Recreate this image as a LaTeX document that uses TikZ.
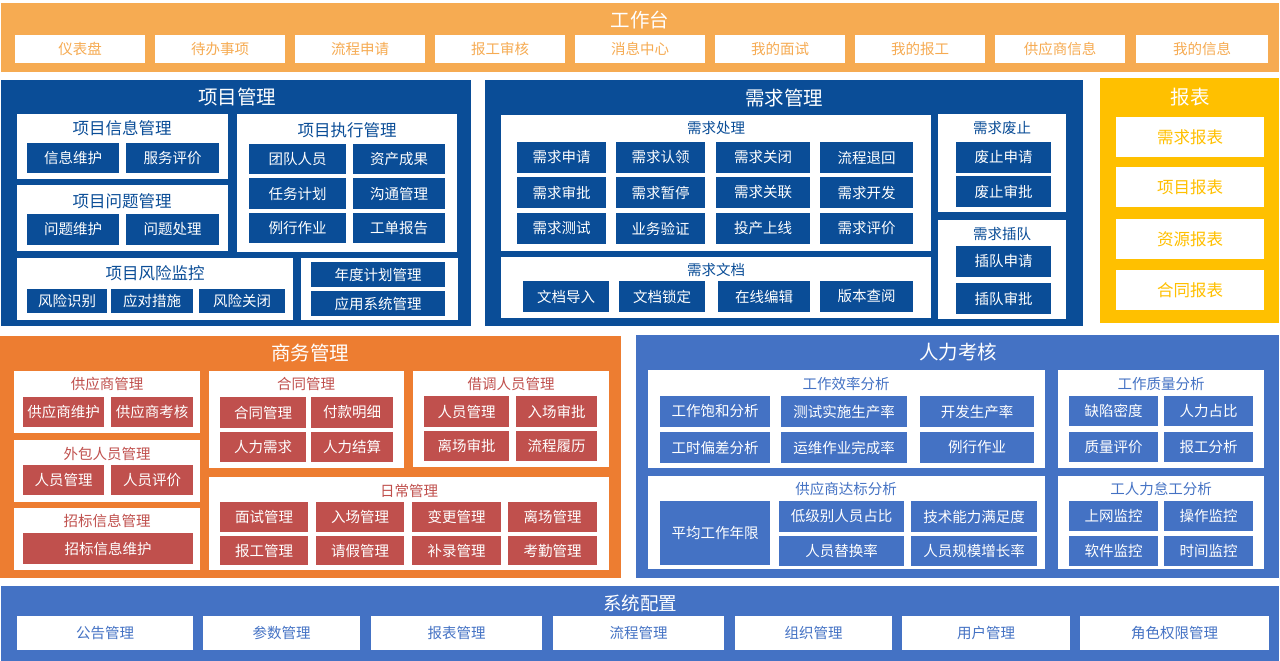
\documentclass[tikz,border=0pt]{standalone}
\usepackage{fontspec}
\newfontfamily\cjk{Noto Sans CJK SC}
\definecolor{topor}{HTML}{F6AB52}
\definecolor{dblue}{HTML}{0A4D97}
\definecolor{yel}{HTML}{FFC000}
\definecolor{bor}{HTML}{ED7D31}
\definecolor{red}{HTML}{C0504D}
\definecolor{lblue}{HTML}{4472C4}
\tikzset{
  base/.style={anchor=north west, inner sep=0pt, outer sep=0pt, align=center,
    font=\cjk\fontsize{14.5}{17}\selectfont},
  panel/.style={base, fill=#1},
  wbtn/.style={base, fill=white, text=#1},
  cbtn/.style={base, fill=#1, text=white},
  bigttl/.style={inner sep=0pt, text=white, font=\cjk\fontsize{19.5}{22}\selectfont},
  subttl/.style={inner sep=0pt, text=#1, font=\cjk\fontsize{14.5}{17}\selectfont},
  midttl/.style={inner sep=0pt, text=#1, font=\cjk\fontsize{16.5}{19}\selectfont},
}
\newcommand\cell[7]{\node[#1, minimum width=#5pt, minimum height=#6pt] (#2) at (#3,#4) {#7};}
\begin{document}
\begin{tikzpicture}[x=1pt,y=-1pt]
\useasboundingbox (0,0) rectangle (1280,661);
\fill[white] (0,0) rectangle (1280,661);

% ===== 工作台 =====
\cell{panel=topor}{wb}{1}{3}{1278}{69}{}
\node[bigttl] (wbt) at (640,20) {工作台};
\cell{wbtn=topor}{wb1}{15}{35}{130}{28}{仪表盘}
\cell{wbtn=topor}{wb2}{155}{35}{130}{28}{待办事项}
\cell{wbtn=topor}{wb3}{295}{35}{130}{28}{流程申请}
\cell{wbtn=topor}{wb4}{435}{35}{130}{28}{报工审核}
\cell{wbtn=topor}{wb5}{575}{35}{130}{28}{消息中心}
\cell{wbtn=topor}{wb6}{715}{35}{130}{28}{我的面试}
\cell{wbtn=topor}{wb7}{855}{35}{130}{28}{我的报工}
\cell{wbtn=topor}{wb8}{995}{35}{130}{28}{供应商信息}
\cell{wbtn=topor}{wb9}{1136}{35}{132}{28}{我的信息}

% ===== 项目管理 =====
\cell{panel=dblue}{pm}{1}{80}{470}{246}{}
\node[bigttl] (pmt) at (237,97) {项目管理};
\cell{panel=white}{pa}{17}{114}{211}{65}{}
\node[midttl=dblue] (pat) at (122,128) {项目信息管理};
\cell{cbtn=dblue}{pa1}{27}{143}{92}{30}{信息维护}
\cell{cbtn=dblue}{pa2}{126}{143}{93}{30}{服务评价}
\cell{panel=white}{pb}{17}{185}{211}{66}{}
\node[midttl=dblue] (pbt) at (122,201) {项目问题管理};
\cell{cbtn=dblue}{pb1}{27}{214}{92}{31}{问题维护}
\cell{cbtn=dblue}{pb2}{126}{214}{93}{31}{问题处理}
\cell{panel=white}{pc}{237}{114}{220}{138}{}
\node[midttl=dblue] (pct) at (347,130) {项目执行管理};
\cell{cbtn=dblue}{pc1}{249}{144}{97}{30}{团队人员}
\cell{cbtn=dblue}{pc2}{353}{144}{92}{30}{资产成果}
\cell{cbtn=dblue}{pc3}{249}{178}{97}{31}{任务计划}
\cell{cbtn=dblue}{pc4}{353}{178}{92}{31}{沟通管理}
\cell{cbtn=dblue}{pc5}{249}{213}{97}{30}{例行作业}
\cell{cbtn=dblue}{pc6}{353}{213}{92}{30}{工单报告}
\cell{panel=white}{pd}{17}{258}{276}{62}{}
\node[midttl=dblue] (pdt) at (155,273) {项目风险监控};
\cell{cbtn=dblue}{pd1}{27}{289}{80}{24}{风险识别}
\cell{cbtn=dblue}{pd2}{111}{289}{82}{24}{应对措施}
\cell{cbtn=dblue}{pd3}{199}{289}{86}{24}{风险关闭}
\cell{panel=white}{pe}{301}{258}{157}{62}{}
\cell{cbtn=dblue}{pe1}{311}{262}{134}{25}{年度计划管理}
\cell{cbtn=dblue}{pe2}{311}{291}{134}{25}{应用系统管理}

% ===== 需求管理 =====
\cell{panel=dblue}{dm}{485}{80}{598}{246}{}
\node[bigttl] (dmt) at (784,98) {需求管理};
\cell{panel=white}{da}{501}{115}{430}{136}{}
\node[subttl=dblue] (dat) at (716,128) {需求处理};
\cell{cbtn=dblue}{da1}{517}{142}{89}{31}{需求申请}
\cell{cbtn=dblue}{da2}{616}{142}{89}{31}{需求认领}
\cell{cbtn=dblue}{da3}{716}{142}{94}{31}{需求关闭}
\cell{cbtn=dblue}{da4}{820}{142}{93}{31}{流程退回}
\cell{cbtn=dblue}{da5}{517}{177}{89}{31}{需求审批}
\cell{cbtn=dblue}{da6}{616}{177}{89}{31}{需求暂停}
\cell{cbtn=dblue}{da7}{716}{177}{94}{31}{需求关联}
\cell{cbtn=dblue}{da8}{820}{177}{93}{31}{需求开发}
\cell{cbtn=dblue}{da9}{517}{213}{89}{31}{需求测试}
\cell{cbtn=dblue}{da10}{616}{213}{89}{31}{业务验证}
\cell{cbtn=dblue}{da11}{716}{213}{94}{31}{投产上线}
\cell{cbtn=dblue}{da12}{820}{213}{93}{31}{需求评价}
\cell{panel=white}{db}{501}{257}{430}{61}{}
\node[subttl=dblue] (dbt) at (716,270) {需求文档};
\cell{cbtn=dblue}{db1}{523}{281}{86}{31}{文档导入}
\cell{cbtn=dblue}{db2}{619}{281}{86}{31}{文档锁定}
\cell{cbtn=dblue}{db3}{718}{281}{92}{31}{在线编辑}
\cell{cbtn=dblue}{db4}{820}{281}{93}{31}{版本查阅}
\cell{panel=white}{dc}{938}{114}{128}{98}{}
\node[subttl=dblue] (dct) at (1002,128) {需求废止};
\cell{cbtn=dblue}{dc1}{956}{142}{95}{31}{废止申请}
\cell{cbtn=dblue}{dc2}{956}{176}{95}{31}{废止审批}
\cell{panel=white}{dd}{938}{220}{128}{99}{}
\node[subttl=dblue] (ddt) at (1002,234) {需求插队};
\cell{cbtn=dblue}{dd1}{956}{246}{95}{31}{插队申请}
\cell{cbtn=dblue}{dd2}{956}{283}{95}{31}{插队审批}

% ===== 报表 =====
\cell{panel=yel}{rp}{1100}{78}{179}{245}{}
\node[bigttl] (rpt) at (1190,97) {报表};
\cell{wbtn=yel,font=\cjk\fontsize{16.5}{19}\selectfont}{rp1}{1116}{117}{148}{40}{需求报表}
\cell{wbtn=yel,font=\cjk\fontsize{16.5}{19}\selectfont}{rp2}{1116}{167}{148}{40}{项目报表}
\cell{wbtn=yel,font=\cjk\fontsize{16.5}{19}\selectfont}{rp3}{1116}{219}{148}{40}{资源报表}
\cell{wbtn=yel,font=\cjk\fontsize{16.5}{19}\selectfont}{rp4}{1116}{270}{148}{40}{合同报表}

% ===== 商务管理 =====
\cell{panel=bor}{bm}{0}{336}{621}{242}{}
\node[bigttl] (bmt) at (310,353) {商务管理};
\cell{panel=white}{ba}{14}{371}{186}{62}{}
\node[subttl=red] (bat) at (107,384) {供应商管理};
\cell{cbtn=red}{ba1}{23}{397}{81}{30}{供应商维护}
\cell{cbtn=red}{ba2}{111}{397}{82}{30}{供应商考核}
\cell{panel=white}{bb}{14}{440}{186}{62}{}
\node[subttl=red] (bbt) at (107,454) {外包人员管理};
\cell{cbtn=red}{bb1}{23}{465}{81}{30}{人员管理}
\cell{cbtn=red}{bb2}{111}{465}{82}{30}{人员评价}
\cell{panel=white}{bc}{14}{508}{186}{62}{}
\node[subttl=red] (bct) at (107,521) {招标信息管理};
\cell{cbtn=red}{bc1}{23}{533}{170}{31}{招标信息维护}
\cell{panel=white}{bd}{209}{371}{195}{97}{}
\node[subttl=red] (bdt) at (306,384) {合同管理};
\cell{cbtn=red}{bd1}{220}{397}{86}{31}{合同管理}
\cell{cbtn=red}{bd2}{311}{397}{82}{31}{付款明细}
\cell{cbtn=red}{bd3}{220}{432}{86}{30}{人力需求}
\cell{cbtn=red}{bd4}{311}{432}{82}{30}{人力结算}
\cell{panel=white}{be}{413}{371}{196}{96}{}
\node[subttl=red] (bet) at (511,384) {借调人员管理};
\cell{cbtn=red}{be1}{424}{396}{85}{31}{人员管理}
\cell{cbtn=red}{be2}{516}{396}{81}{31}{入场审批}
\cell{cbtn=red}{be3}{424}{431}{85}{30}{离场审批}
\cell{cbtn=red}{be4}{516}{431}{81}{30}{流程履历}
\cell{panel=white}{bf}{209}{477}{400}{93}{}
\node[subttl=red] (bft) at (409,491) {日常管理};
\cell{cbtn=red}{bf1}{220}{502}{88}{30}{面试管理}
\cell{cbtn=red}{bf2}{316}{502}{88}{30}{入场管理}
\cell{cbtn=red}{bf3}{412}{502}{89}{30}{变更管理}
\cell{cbtn=red}{bf4}{508}{502}{89}{30}{离场管理}
\cell{cbtn=red}{bf5}{220}{536}{88}{29}{报工管理}
\cell{cbtn=red}{bf6}{316}{536}{88}{29}{请假管理}
\cell{cbtn=red}{bf7}{412}{536}{89}{29}{补录管理}
\cell{cbtn=red}{bf8}{508}{536}{89}{29}{考勤管理}

% ===== 人力考核 =====
\cell{panel=lblue}{hr}{636}{335}{643}{243}{}
\node[bigttl] (hrt) at (958,352) {人力考核};
\cell{panel=white}{ha}{648}{370}{397}{98}{}
\node[subttl=lblue] (hat) at (846,384) {工作效率分析};
\cell{cbtn=lblue}{ha1}{660}{396}{110}{31}{工作饱和分析}
\cell{cbtn=lblue}{ha2}{781}{396}{126}{31}{测试实施生产率}
\cell{cbtn=lblue}{ha3}{920}{396}{114}{31}{开发生产率}
\cell{cbtn=lblue}{ha4}{660}{432}{110}{31}{工时偏差分析}
\cell{cbtn=lblue}{ha5}{781}{432}{126}{31}{运维作业完成率}
\cell{cbtn=lblue}{ha6}{920}{432}{114}{31}{例行作业}
\cell{panel=white}{hb}{1058}{370}{206}{98}{}
\node[subttl=lblue] (hbt) at (1161,384) {工作质量分析};
\cell{cbtn=lblue}{hb1}{1069}{396}{89}{30}{缺陷密度}
\cell{cbtn=lblue}{hb2}{1164}{396}{89}{30}{人力占比}
\cell{cbtn=lblue}{hb3}{1069}{432}{89}{30}{质量评价}
\cell{cbtn=lblue}{hb4}{1164}{432}{89}{30}{报工分析}
\cell{panel=white}{hc}{648}{476}{397}{93}{}
\node[subttl=lblue] (hct) at (846,489) {供应商达标分析};
\cell{cbtn=lblue}{hc1}{660}{501}{110}{64}{平均工作年限}
\cell{cbtn=lblue}{hc2}{779}{501}{125}{31}{低级别人员占比}
\cell{cbtn=lblue}{hc3}{911}{501}{126}{31}{技术能力满足度}
\cell{cbtn=lblue}{hc4}{779}{536}{125}{30}{人员替换率}
\cell{cbtn=lblue}{hc5}{911}{536}{126}{30}{人员规模增长率}
\cell{panel=white}{hd}{1058}{476}{206}{93}{}
\node[subttl=lblue] (hdt) at (1161,489) {工人力怠工分析};
\cell{cbtn=lblue}{hd1}{1069}{501}{89}{30}{上网监控}
\cell{cbtn=lblue}{hd2}{1164}{501}{89}{30}{操作监控}
\cell{cbtn=lblue}{hd3}{1069}{536}{89}{30}{软件监控}
\cell{cbtn=lblue}{hd4}{1164}{536}{89}{30}{时间监控}

% ===== 系统配置 =====
\cell{panel=lblue}{sc}{1}{586}{1278}{75}{}
\node[bigttl,font=\cjk\fontsize{18.5}{21}\selectfont] (sct) at (640,603) {系统配置};
\cell{wbtn=lblue}{sc1}{17}{616}{176}{34}{公告管理}
\cell{wbtn=lblue}{sc2}{203}{616}{157}{34}{参数管理}
\cell{wbtn=lblue}{sc3}{371}{616}{171}{34}{报表管理}
\cell{wbtn=lblue}{sc4}{553}{616}{171}{34}{流程管理}
\cell{wbtn=lblue}{sc5}{735}{616}{157}{34}{组织管理}
\cell{wbtn=lblue}{sc6}{902}{616}{168}{34}{用户管理}
\cell{wbtn=lblue}{sc7}{1080}{616}{189}{34}{角色权限管理}
\end{tikzpicture}
\end{document}
